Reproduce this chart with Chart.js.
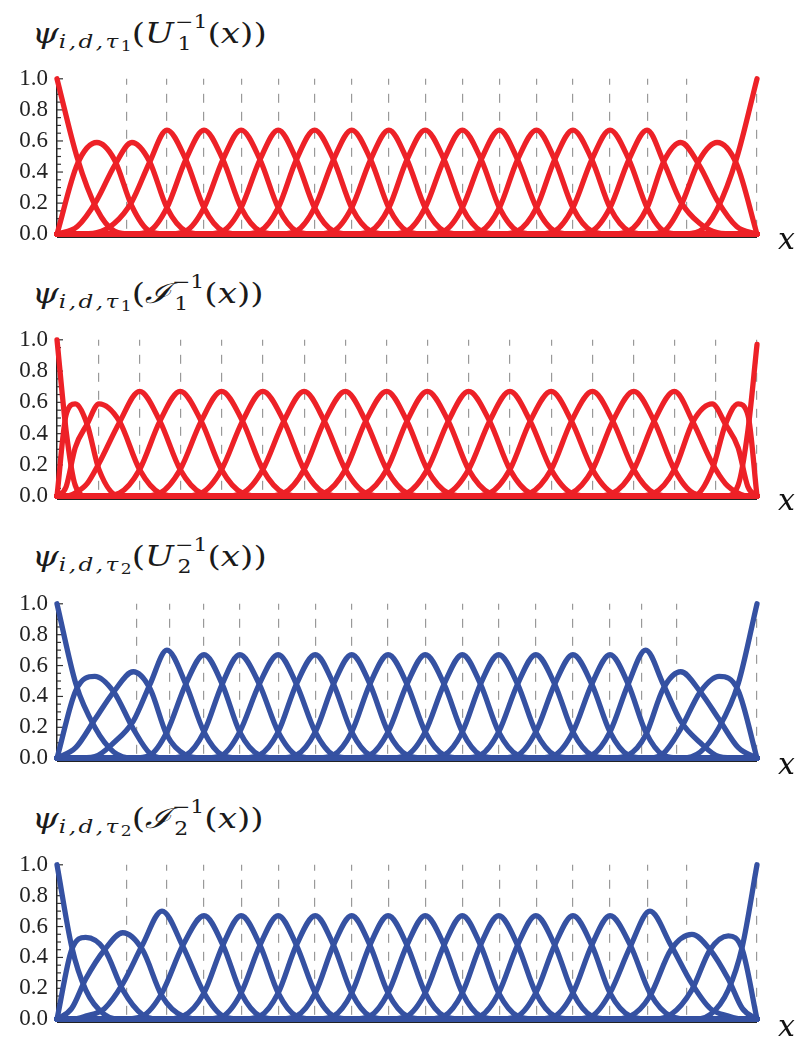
<!DOCTYPE html>
<html>
<head>
<meta charset="utf-8">
<script src="https://cdn.jsdelivr.net/npm/chart.js@4.4.1/dist/chart.umd.min.js"></script>
<style>
  body { margin: 0; background: #fff; }
  #page { position: relative; width: 798px; height: 1046px; overflow: hidden; background: #fff; }
  .box { position: absolute; left: 0; width: 798px; }
  .t { position: absolute; left: 32px; font-family: 'DejaVu Serif', 'Liberation Serif', serif; font-size: 28px; line-height: 36px;
       color: #1a1a1a; white-space: nowrap; transform: scaleX(1.22); transform-origin: 0 0; }
  .t i { font-style: italic; }
  .t .s1 { font-size: 19px; font-style: italic; vertical-align: -5px; letter-spacing: 2px; }
  .t .s2 { font-size: 14px; font-style: normal; vertical-align: -3px; letter-spacing: 0; }
  .t .st { display: inline-flex; flex-direction: column; align-items: flex-start; vertical-align: 15px;
           font-size: 18px; line-height: 22px; margin-left: 1px; }
  .t .st .dn { margin-left: 2px; }
  .xl { position: absolute; left: 778px; font-family: 'DejaVu Serif', 'Liberation Serif', serif; font-style: italic;
        font-size: 30px; line-height: 30px; color: #111; }
</style>
</head>
<body>
<div id="page">
  <div class="t" style="top:11px"><i>ψ</i><span class="s1">i,d,τ<span class="s2">1</span></span>(<i>U</i><span class="st"><span>−1</span><span class="dn">1</span></span>(<i>x</i>))</div>
  <div class="box" style="top:56px;height:201px"><canvas id="c1" width="798" height="201"></canvas></div>
  <div class="xl" style="top:224px">x</div>

  <div class="t" style="top:271px"><i>ψ</i><span class="s1">i,d,τ<span class="s2">1</span></span>(<i>ℐ</i><span class="st"><span>−1</span><span class="dn">1</span></span>(<i>x</i>))</div>
  <div class="box" style="top:317px;height:202px"><canvas id="c2" width="798" height="202"></canvas></div>
  <div class="xl" style="top:485px">x</div>

  <div class="t" style="top:534px"><i>ψ</i><span class="s1">i,d,τ<span class="s2">2</span></span>(<i>U</i><span class="st"><span>−1</span><span class="dn">2</span></span>(<i>x</i>))</div>
  <div class="box" style="top:581px;height:200px"><canvas id="c3" width="798" height="200"></canvas></div>
  <div class="xl" style="top:749px">x</div>

  <div class="t" style="top:796px"><i>ψ</i><span class="s1">i,d,τ<span class="s2">2</span></span>(<i>ℐ</i><span class="st"><span>−1</span><span class="dn">2</span></span>(<i>x</i>))</div>
  <div class="box" style="top:842px;height:200px"><canvas id="c4" width="798" height="200"></canvas></div>
  <div class="xl" style="top:1011px">x</div>
</div>
<script>
// ===== DATA =====
const yTicks = [0, 0.2, 0.4, 0.6, 0.8, 1.0];
const yMinorStep = 0.05;

// panel 1: psi_{i,d,tau1}(U1^-1(x))
// sample positions: every bump peak and the points half way between peaks
const p1X = [0, .029, .057, .082, .107, .132, .157, .184, .210, .237, .263, .290, .316, .342, .368, .395, .421, .448, .474, .500,
  .526, .553, .579, .606, .632, .658, .685, .711, .737, .764, .790, .817, .843, .867, .891, .918, .943, .971, 1];
const p1Knots = [.100, .157, .210, .263, .316, .368, .421, .474, .526, .579, .632, .685, .737, .790, .843, .900, 1];
// each row: first sample index, then the curve values from there
const p1Rows = [
  [0, 1.00, .49, .16, .02, 0],
  [0, 0, .45, .59, .48, .18, .02, 0],
  [0, 0, .05, .22, .44, .59, .47, .17, .02, 0],
  [1, 0, .01, .07, .21, .46, .67, .48, .17, .02, 0],
  [4, 0, .02, .17, .48, .67, .48, .17, .02, 0],
  [6, 0, .02, .17, .48, .67, .48, .17, .02, 0],
  [8, 0, .02, .17, .48, .67, .48, .17, .02, 0],
  [10, 0, .02, .17, .48, .67, .48, .17, .02, 0],
  [12, 0, .02, .17, .48, .67, .48, .17, .02, 0],
  [14, 0, .02, .17, .48, .67, .48, .17, .02, 0],
  [16, 0, .02, .17, .48, .67, .48, .17, .02, 0],
  [18, 0, .02, .17, .48, .67, .48, .17, .02, 0],
  [20, 0, .02, .17, .48, .67, .48, .17, .02, 0],
  [22, 0, .02, .17, .48, .67, .48, .17, .02, 0],
  [24, 0, .02, .17, .48, .67, .48, .17, .02, 0],
  [26, 0, .02, .17, .48, .67, .48, .17, .02, 0],
  [28, 0, .02, .17, .48, .67, .46, .21, .07, .01, 0],
  [30, 0, .02, .17, .47, .59, .44, .22, .05, 0],
  [32, 0, .02, .18, .48, .59, .45, 0],
  [34, 0, .02, .16, .49, 1.00]
];

// panel 2: psi_{i,d,tau1}(I1^-1(x))
const p2X = [0, .013, .026, .043, .060, .089, .118, .147, .176, .206, .235, .265, .294, .324, .353, .382, .412, .441, .471, .500,
  .529, .559, .588, .618, .647, .676, .706, .735, .765, .794, .824, .853, .882, .909, .936, .955, .973, .987, 1];
const p2Knots = [.059, .118, .176, .235, .294, .353, .412, .471, .529, .588, .647, .706, .765, .824, .882, .941, 1];
const p2Rows = [
  [0, 1.00, .42, .07, 0],
  [0, 0, .52, .59, .46, .17, 0],
  [0, 0, .06, .31, .46, .59, .48, .17, .02, 0],
  [1, 0, .02, .08, .21, .47, .67, .48, .17, .02, 0],
  [4, 0, .02, .17, .48, .67, .48, .17, .02, 0],
  [6, 0, .02, .17, .48, .67, .48, .17, .02, 0],
  [8, 0, .02, .17, .48, .67, .48, .17, .02, 0],
  [10, 0, .02, .17, .48, .67, .48, .17, .02, 0],
  [12, 0, .02, .17, .48, .67, .48, .17, .02, 0],
  [14, 0, .02, .17, .48, .67, .48, .17, .02, 0],
  [16, 0, .02, .17, .48, .67, .48, .17, .02, 0],
  [18, 0, .02, .17, .48, .67, .48, .17, .02, 0],
  [20, 0, .02, .17, .48, .67, .48, .17, .02, 0],
  [22, 0, .02, .17, .48, .67, .48, .17, .02, 0],
  [24, 0, .02, .17, .48, .67, .48, .17, .02, 0],
  [26, 0, .02, .17, .48, .67, .48, .17, .02, 0],
  [28, 0, .02, .17, .48, .67, .47, .21, .08, .02, 0],
  [30, 0, .02, .17, .48, .59, .46, .31, .06, 0],
  [33, 0, .17, .46, .59, .52, 0],
  [35, 0, .07, .42, .97]
];

// panel 3: psi_{i,d,tau2}(U2^-1(x))
const p3X = [0, .027, .054, .081, .109, .133, .157, .184, .210, .236, .261, .289, .316, .342, .369, .395, .421, .447, .473, .500,
  .526, .553, .579, .605, .631, .658, .684, .711, .737, .764, .790, .816, .841, .866, .891, .919, .946, .973, 1];
const p3Knots = [.114, .161, .210, .261, .316, .369, .421, .473, .526, .579, .631, .684, .737, .790, .835, .885, 1];
const p3Rows = [
  [0, 1.00, .48, .20, .04, 0],
  [0, 0, .44, .53, .43, .19, .03, 0],
  [0, 0, .07, .25, .43, .56, .45, .15, .02, 0],
  [1, 0, .01, .10, .24, .48, .70, .48, .17, .02, 0],
  [4, 0, .02, .17, .48, .67, .48, .17, .02, 0],
  [6, 0, .02, .17, .48, .67, .48, .17, .02, 0],
  [8, 0, .02, .17, .48, .67, .48, .17, .02, 0],
  [10, 0, .02, .17, .48, .67, .48, .17, .02, 0],
  [12, 0, .02, .17, .48, .67, .48, .17, .02, 0],
  [14, 0, .02, .17, .48, .67, .48, .17, .02, 0],
  [16, 0, .02, .17, .48, .67, .48, .17, .02, 0],
  [18, 0, .02, .17, .48, .67, .48, .17, .02, 0],
  [20, 0, .02, .17, .48, .67, .48, .17, .02, 0],
  [22, 0, .02, .17, .48, .67, .48, .17, .02, 0],
  [24, 0, .02, .17, .48, .67, .48, .17, .02, 0],
  [26, 0, .02, .17, .48, .67, .48, .17, .02, 0],
  [28, 0, .02, .17, .48, .70, .48, .24, .10, .01, 0],
  [30, 0, .02, .15, .45, .56, .43, .25, .07, 0],
  [32, 0, .03, .19, .43, .53, .44, 0],
  [34, 0, .04, .20, .48, 1.00]
];

// panel 4: psi_{i,d,tau2}(I2^-1(x))
const p4X = [0, .021, .041, .068, .094, .122, .150, .180, .210, .237, .263, .290, .316, .342, .369, .395, .421, .447, .473, .500,
  .526, .553, .579, .605, .631, .658, .684, .711, .737, .764, .790, .819, .847, .877, .907, .933, .959, .979, 1];
const p4Knots = [.100, .157, .210, .263, .316, .368, .421, .474, .526, .579, .632, .685, .737, .790, .843, .900, 1];
const p4Rows = [
  [0, 1.00, .47, .19, .03, 0],
  [0, 0, .45, .53, .45, .19, .03, 0],
  [0, 0, .07, .26, .45, .56, .45, .15, .02, 0],
  [1, 0, .02, .07, .23, .48, .70, .47, .17, .02, 0],
  [4, 0, .02, .17, .48, .67, .48, .17, .02, 0],
  [6, 0, .02, .17, .48, .67, .48, .17, .02, 0],
  [8, 0, .02, .17, .48, .67, .48, .17, .02, 0],
  [10, 0, .02, .17, .48, .67, .48, .17, .02, 0],
  [12, 0, .02, .17, .48, .67, .48, .17, .02, 0],
  [14, 0, .02, .17, .48, .67, .48, .17, .02, 0],
  [16, 0, .02, .17, .48, .67, .48, .17, .02, 0],
  [18, 0, .02, .17, .48, .67, .48, .17, .02, 0],
  [20, 0, .02, .17, .48, .67, .48, .17, .02, 0],
  [22, 0, .02, .17, .48, .67, .48, .17, .02, 0],
  [24, 0, .02, .17, .48, .67, .48, .17, .02, 0],
  [26, 0, .02, .17, .48, .67, .48, .17, .02, 0],
  [28, 0, .02, .17, .47, .70, .48, .23, .07, .02, 0],
  [30, 0, .02, .15, .45, .55, .45, .26, .07, 0],
  [32, 0, .03, .19, .45, .54, .45, 0],
  [34, 0, .03, .19, .47, 1.00]
];

const RED = '#ED2127';
const BLUE = '#3551A2';

// ===== CHARTS =====
// small inward ticks on the left spine and the black base line under the curves
const axisMarks = {
  id: 'axisMarks',
  beforeDatasetsDraw(chart) {
    const { ctx, chartArea: a, scales: { y } } = chart;
    ctx.save();
    ctx.strokeStyle = '#333';
    ctx.lineWidth = 1.2;
    for (let k = 0; k * yMinorStep <= 1.0001; k++) {
      const py = y.getPixelForValue(k * yMinorStep);
      const len = k % 4 === 0 ? 6 : 4;
      ctx.beginPath();
      ctx.moveTo(a.left, py);
      ctx.lineTo(a.left + len, py);
      ctx.stroke();
    }
    ctx.strokeStyle = '#222';
    ctx.lineWidth = 1.6;
    ctx.beginPath();
    ctx.moveTo(a.left, a.bottom + 3);
    ctx.lineTo(a.right, a.bottom + 3);
    ctx.stroke();
    ctx.restore();
  }
};

function buildSets(grid, rows, color) {
  return rows.map(r => {
    const start = r[0];
    const vals = r.slice(1);
    const pts = vals.map((v, k) => ({ x: grid[start + k], y: v }));
    if (start > 0) pts.unshift({ x: grid[0], y: 0 });
    if (start + vals.length < grid.length) pts.push({ x: grid[grid.length - 1], y: 0 });
    return {
      data: pts,
      borderColor: color,
      borderWidth: 5.3,
      pointRadius: 0,
      fill: false,
      cubicInterpolationMode: 'monotone',
      borderCapStyle: 'round',
      borderJoinStyle: 'round',
      clip: false
    };
  });
}

function initPanel(id, grid, rows, knots, color) {
  const ctx = document.getElementById(id);
  if (!ctx) return;
  new Chart(ctx.getContext('2d'), {
    type: 'line',
    data: { datasets: buildSets(grid, rows, color) },
    options: {
      responsive: false,
      animation: false,
      events: [],
      layout: { padding: { top: 14, bottom: 14, left: 0, right: 41 } },
      plugins: { legend: { display: false }, tooltip: { enabled: false } },
      scales: {
        x: {
          type: 'linear',
          min: 0,
          max: 1,
          afterBuildTicks: s => { s.ticks = knots.map(v => ({ value: v })); },
          afterFit: s => { s.height = 0; },
          ticks: { display: false },
          grid: { color: '#999', lineWidth: 1.2, drawTicks: false },
          border: { display: false, dash: [9, 9], dashOffset: 3 }
        },
        y: {
          min: 0,
          max: 1,
          afterBuildTicks: s => { s.ticks = yTicks.map(v => ({ value: v })); },
          afterFit: s => { s.width = 57; },
          ticks: {
            padding: 9,
            color: '#222',
            font: { family: "'Liberation Serif', serif", size: 23 },
            callback: v => v.toFixed(1)
          },
          grid: { drawOnChartArea: false, drawTicks: false },
          border: { display: true, color: '#222', width: 1.5 }
        }
      }
    },
    plugins: [axisMarks]
  });
}

try {
  initPanel('c1', p1X, p1Rows, p1Knots, RED);
  initPanel('c2', p2X, p2Rows, p2Knots, RED);
  initPanel('c3', p3X, p3Rows, p3Knots, BLUE);
  initPanel('c4', p4X, p4Rows, p4Knots, BLUE);
} catch (e) {
  console.error('Error initializing charts:', e);
}
</script>
</body>
</html>
